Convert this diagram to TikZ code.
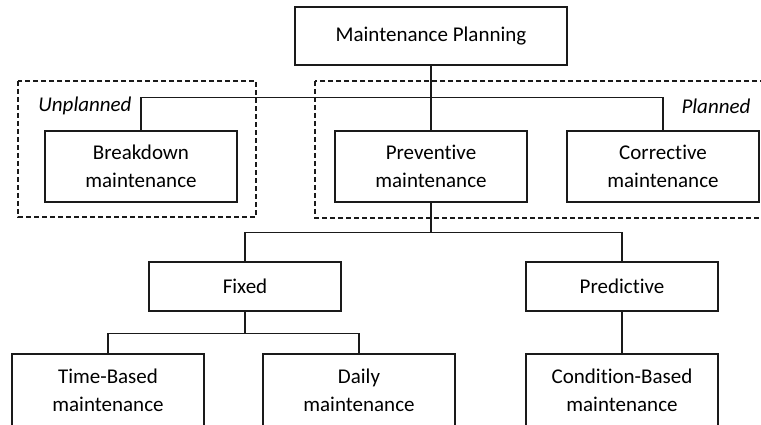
\documentclass[tikz,border=0pt]{standalone}
\usepackage{fontspec}
\setmainfont[Ligatures=NoCommon]{Carlito}
\usetikzlibrary{positioning, calc}
\definecolor{cline}{HTML}{1A1A1A}
\tikzset{
  every picture/.style={font=\fontsize{21}{28}\selectfont, line width=1.2pt},
  box/.style={draw=cline, fill=white, align=center, inner sep=2pt, minimum width=192pt, minimum height=#1},
  box/.default=71pt,
  link/.style={draw=cline, line width=1.2pt},
  group/.style={draw=cline, dash pattern=on 5pt off 3pt, line width=1.1pt},
  tag/.style={font=\fontsize{21}{24}\selectfont\itshape},
}

\begin{document}
\begin{tikzpicture}[x=1pt, y=-1pt]
  \clip (0,0) rectangle (761,425);
  \fill[white] (0,0) rectangle (761,425);
  % groups
  \draw[group] (18,81) rectangle (256,217);
  \draw[group] (315,81) rectangle (775,218);
  \node[tag] (unpl) at (85,106) {Unplanned};
  \node[tag] (plnd) at (716,106) {Planned};
  % top level
  \node[box=58pt, minimum width=272pt] (plan) at (431,36) {Maintenance Planning};
  \node[box] (bkd) at (141,166.5) {Breakdown\\maintenance};
  \node[box] (prev) at (431,166.5) {Preventive\\maintenance};
  \node[box] (corr) at (663,166.5) {Corrective\\maintenance};
  \draw[link] (plan.south) -- (prev.north);
  \draw[link] (bkd.north) -- ++(0,-33) -| (corr.north);
  % preventive branch
  \node[box=49pt] (fixd) at (245,286.5) {Fixed};
  \node[box=49pt] (pred) at (622,286.5) {Predictive};
  \draw[link] (prev.south) -- ++(0,30) coordinate (j2);
  \draw[link] (fixd.north) |- (j2) -| (pred.north);
  % leaves
  \node[box=72pt] (tbm) at (108,390) {Time-Based\\maintenance};
  \node[box=72pt] (daily) at (359,390) {Daily\\maintenance};
  \node[box=72pt] (cbm) at (622,390) {Condition-Based\\maintenance};
  \draw[link] (fixd.south) -- ++(0,22) coordinate (j3);
  \draw[link] (tbm.north) |- (j3) -| (daily.north);
  \draw[link] (pred.south) -- (cbm.north);
\end{tikzpicture}
\end{document}
